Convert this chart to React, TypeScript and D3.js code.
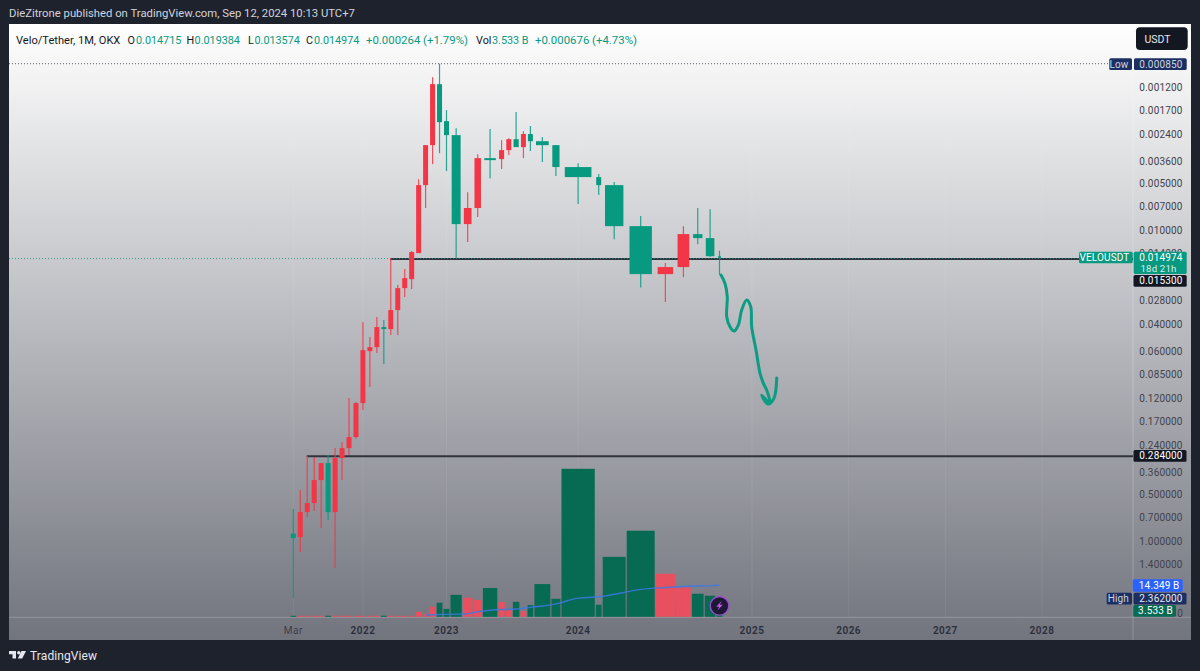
import React from "react";
import * as d3 from "d3";

// Monthly candles, Mar 2021 .. Sep 2024 (the price axis is inverted)
const opens = [0.896,0.944,0.652,0.5705,0.4058,0.3155,0.652,0.2929,0.2526,0.2146,0.1297,0.06004,0.05658,0.04207,0.04334,0.03271,0.02361,0.02067,0.01406,0.005136,0.00284,0.001151,0.00199,0.002449,0.00915,0.00721,0.003444,0.003495,0.003058,0.0026,0.002925,0.00241,0.00268,0.00284,0.00393,0.00456,0.005136,0.00943,0.01919,0.01729,0.01061,0.01126,0.014715];
const highs = [2.33,1.179,0.702,0.6423,0.826,0.7339,1.494,0.4058,0.2802,0.219,0.1439,0.1023,0.06185,0.0728,0.04737,0.04737,0.02698,0.02397,0.01406,0.00721,0.003763,0.003197,0.004174,0.01514,0.011945,0.00825,0.00463,0.00405,0.00329,0.002925,0.003444,0.0031,0.00365,0.00449,0.0068,0.00595,0.01143,0.02344,0.02905,0.02006,0.01231,0.01492,0.019384];
const lows = [0.6235,0.4706,0.2844,0.2886,0.3155,0.2802,0.2526,0.2311,0.1204,0.1278,0.0391,0.0488,0.03628,0.03793,0.01514,0.02258,0.01782,0.01365,0.0047,0.00284,0.001037,0.00085,0.001691,0.002208,0.0057,0.003245,0.00224,0.002637,0.00256,0.00174,0.00231,0.00214,0.00252,0.00284,0.00371,0.00436,0.00491,0.008125,0.0163,0.00943,0.00721,0.00733,0.013574];
const closes = [0.958,0.652,0.5705,0.4058,0.3155,0.652,0.2929,0.2526,0.2146,0.1297,0.05916,0.05658,0.04207,0.04334,0.03271,0.02361,0.02036,0.01385,0.005136,0.00284,0.001151,0.00202,0.002449,0.00915,0.00721,0.003444,0.003547,0.003058,0.0026,0.002925,0.00241,0.00268,0.00284,0.00393,0.00456,0.005136,0.00943,0.01919,0.01729,0.01061,0.01126,0.014715,0.014974];
// Volume in billions
const volumes = [0.4,0.3,0.3,0.3,0.3,0.45,0.3,0.3,0.3,0.3,0.3,0.3,0.3,0.45,0.3,0.3,0.3,0.45,2.3,1.4,4.6,6.4,3.6,10,8.7,7.7,13.1,6.7,3,6.8,2.6,5.3,14.9,8.2,67.4,5.5,27.3,39.2,19.6,13.4,10.5,9.6,3.533];
const volumeMAStart = 19;
const volumeMA = [0.8,0.9,1.05,1.1,1.2,1.4,2.3,3,3.3,3.4,3.55,3.9,4.3,4.9,5.9,8.5,9.1,10.25,12.5,13.35,13.8,14,14.1,14.349];

const priceTicks = [0.0012,0.0017,0.0024,0.0036,0.005,0.007,0.01,0.014,0.028,0.04,0.06,0.085,0.12,0.17,0.24,0.36,0.5,0.7,1,1.4];
const timeTicks: [number,string,boolean][] = [[0,"Mar",false],[10,"2022",true],[22,"2023",true],[34,"2024",true],[46,"2025",true],[58,"2026",true],[70,"2027",true],[82,"2028",true]];
const supportLevels: [number,number][] = [[0.0153,14],[0.284,2]]; // price, month where the line begins

// Hand drawn arrow: month index, price
const sketchMonths = [42.15,42.65,42.93,42.86,43.27,43.77,44.3,44.72,45.34,45.84,45.96,46.5,46.99,47.4,47.82,48.23,47.2,47.99,48.73,49.07];
const sketchPrices = [0.01947,0.02203,0.02685,0.03611,0.04188,0.04465,0.04084,0.03271,0.028206,0.03114,0.04188,0.05916,0.08317,0.09645,0.10699,0.1297,0.1152,0.1316,0.1204,0.08956];

const GREEN = "#089981", RED = "#f23645", VGREEN = "#076b54", VRED = "#e9505f";
const UI = "Roboto, 'Noto Sans', sans-serif";

const y = d3.scaleLog().domain([0.00085, 2.362]).range([63.7, 599]);
const volH = d3.scaleLinear().domain([0, 67.4]).range([0, 148]);
const barW = d3.scaleLinear().domain([0,6.4,8.2,10,13.7,19.6,27.3,39.2,67.4]).range([5.78,5.78,9,11.2,15,19.3,23,28,33.3]);
const widths = volumes.map(v => barW(v));
const cum: number[] = [0];
for (let i = 1; i < widths.length; i++) cum.push(cum[i-1] + (widths[i-1]+widths[i])/2 + 1.25);
const xPast = d3.scaleLinear().domain([0, cum[cum.length-1]]).range([293.3, 719.5]);
const xFuture = d3.scaleLinear().domain([46, 82]).range([752, 1042]);
const xMonth = (m: number) => (m < cum.length && Number.isInteger(m) ? xPast(cum[m]) : xFuture(m));
const baseY = 616.8;

const volLine = d3.line<number>().x((_, i) => xMonth(i + volumeMAStart)).y(v => baseY - volH(v)).curve(d3.curveMonotoneX);
const sketchLine = d3.line<number>().x(m => xFuture(m)).y((_, i) => y(sketchPrices[i])).curve(d3.curveCatmullRom.alpha(0.5));

function Tag({x,y:yy,w,h,fill,text,tx,color="#fff",r=1.5}:{x:number;y:number;w:number;h:number;fill:string;text:string;tx?:number;color?:string;r?:number}) {
  return <g>
    <rect x={x} y={yy} width={w} height={h} rx={r} fill={fill}/>
    <text x={tx ?? x+w-6} y={yy+h/2+3.6} textAnchor="end" fontSize={10} letterSpacing={0.15} fill={color}>{text}</text>
  </g>;
}

export default function App() {
  return (
    <svg width={1200} height={671} viewBox="0 0 1200 671" fontFamily={UI} style={{position:"absolute",left:0,top:0,display:"block"}}>
      <defs>
        <linearGradient id="bg" x1="0" y1="0" x2="0" y2="1">
          <stop offset="0" stopColor="#ffffff"/>
          <stop offset="1" stopColor="#72747e"/>
        </linearGradient>
      </defs>
      <rect width={1200} height={671} fill="#1e222d"/>
      <text x={9} y={16.5} fontSize={11.3} fill="#d1d4dc">DieZitrone published on TradingView.com, Sep 12, 2024 10:13 UTC+7</text>
      <rect x={9} y={24} width={1182} height={616} fill="url(#bg)"/>

      {/* grid */}
      {timeTicks.map(([m]) => <line key={m} x1={xMonth(m)} x2={xMonth(m)} y1={24} y2={617} stroke="#fff" strokeOpacity={0.07}/>)}
      <line x1={1133} x2={1133} y1={24} y2={640} stroke="#fff" strokeOpacity={0.22}/>
      <line x1={9} x2={1191} y1={617.3} y2={617.3} stroke="#fff" strokeOpacity={0.22}/>

      {/* legend */}
      <g fontSize={10.8} fill="#131722">
        <text x={16} y={43.5} fontSize={11.1}>Velo/Tether, 1M, OKX</text>
        <text x={127.5} y={43.5}>O</text><text x={136} y={43.5} fill={GREEN}>0.014715</text>
        <text x={186.6} y={43.5}>H</text><text x={194.6} y={43.5} fill={GREEN}>0.019384</text>
        <text x={248} y={43.5}>L</text><text x={254.5} y={43.5} fill={GREEN}>0.013574</text>
        <text x={306} y={43.5}>C</text><text x={314} y={43.5} fill={GREEN}>0.014974</text>
        <text x={366} y={43.5} fontSize={11.4} fill={GREEN}>+0.000264 (+1.79%)</text>
        <text x={476} y={43.5}>Vol</text><text x={492} y={43.5} fill={GREEN}>3.533 B</text>
        <text x={535} y={43.5} fontSize={11.4} fill={GREEN}>+0.000676 (+4.73%)</text>
      </g>

      {/* volume */}
      {volumes.map((v,i) => {
        const h = Math.max(volH(v), 1), w = widths[i], cx = xMonth(i);
        return <rect key={i} x={cx-w/2} y={baseY-h} width={w} height={h} fill={closes[i]>=opens[i]?VGREEN:VRED}/>;
      })}
      <path d={volLine(volumeMA)!} fill="none" stroke="#3b78e7" strokeOpacity={0.85} strokeWidth={1.4}/>

      {/* low & last price lines */}
      <line x1={9} x2={1108} y1={y(0.00085)} y2={y(0.00085)} stroke="#5a5e68" strokeWidth={1} strokeDasharray="1 2"/>

      {/* support levels */}
      {supportLevels.map(([p,m]) => <line key={p} x1={xMonth(m)-0.5} x2={1133} y1={y(p)+0.3} y2={y(p)+0.3} stroke="#2f333d" strokeWidth={2}/>)}
      <line x1={9} x2={1079} y1={y(0.014974)+1.2} y2={y(0.014974)+1.2} stroke={GREEN} strokeWidth={1} strokeOpacity={0.8} strokeDasharray="1 2"/>

      {/* candles */}
      {opens.map((o,i) => {
        const c = closes[i], col = c>=o?GREEN:RED, cx = xMonth(i);
        const w = i===opens.length-1 ? 3 : Math.max(widths[i]*0.8, 5);
        const t = y(Math.min(o,c)), b = y(Math.max(o,c));
        return <g key={i}>
          <line x1={cx} x2={cx} y1={y(lows[i])} y2={y(highs[i])} stroke={col} strokeWidth={1.2} strokeOpacity={0.85}/>
          <rect x={cx-w/2} y={t} width={w} height={Math.max(b-t,1.6)} fill={col}/>
        </g>;
      })}

      {/* hand drawn arrow */}
      <path d={sketchLine(sketchMonths)!} fill="none" stroke="#0b9c83" strokeWidth={3} strokeLinecap="round" strokeLinejoin="round"/>

      {/* lightning icon */}
      <g transform={`translate(${xMonth(42)},605.8)`}>
        <circle r={9.3} fill="#1c1836" stroke="#9a4fc9" strokeWidth={1.4}/>
        <path d="M2.2,-5 L-3.2,0.9 L-0.3,0.9 L-2.2,5 L3.2,-1 L0.3,-1 Z" fill="#c25be0"/>
      </g>

      {/* price axis */}
      <g fontSize={10} letterSpacing={0.15} fill="#3f424c">
        {priceTicks.map(p => <text key={p} x={1182.5} y={y(p)+3.9} textAnchor="end">{p.toFixed(6)}</text>)}
      </g>
      <text x={1180} y={617} fontSize={10} textAnchor="middle" fill="#3f424c">0</text>

      {/* time axis */}
      <g fontSize={10} letterSpacing={0.5} fill="#2a2e39" textAnchor="middle">
        {timeTicks.map(([m,l,bold]) => <text key={m} x={xMonth(m)} y={633.5} fontWeight={bold?600:400} fillOpacity={bold?1:0.8}>{l}</text>)}
      </g>

      {/* tags */}
      <rect x={1136} y={27.3} width={51.7} height={22.7} rx={4} fill="#131722"/>
      <text x={1144.5} y={43} fontSize={10.5} fill="#e6e8ee">USDT</text>
      <Tag x={1109.3} y={58.3} w={22.7} h={11.7} fill="#1c2f63" text="Low" color="#d1d4dc" tx={1128.5}/>
      <Tag x={1134} y={58.3} w={52.7} h={11.7} fill="#1c2f63" text="0.000850" color="#d1d4dc" tx={1182.5}/>
      <Tag x={1079} y={251.7} w={53.7} h={11.6} fill={GREEN} text="VELOUSDT" tx={1129.5}/>
      <rect x={1133.7} y={251.7} width={53} height={22.3} rx={1.5} fill={GREEN}/>
      <text x={1182.5} y={261} fontSize={10} letterSpacing={0.15} textAnchor="end" fill="#fff">0.014974</text>
      <text x={1176.5} y={271.5} fontSize={9.6} letterSpacing={0.2} textAnchor="end" fill="#d7f0ea">18d 21h</text>
      <Tag x={1133.5} y={275} w={53.2} h={11.7} fill="#131722" text="0.015300" tx={1182.5}/>
      <Tag x={1133.5} y={450} w={53} h={11.7} fill="#131722" text="0.284000" tx={1182.5}/>
      <Tag x={1132.7} y={579.3} w={50} h={12.4} fill="#2962ff" text="14.349 B" tx={1179.5}/>
      <Tag x={1106.7} y={592.7} w={25.3} h={11.7} fill="#1c2f63" text="High" color="#d1d4dc" tx={1129}/>
      <Tag x={1133.5} y={592.7} w={53} h={11.7} fill="#1c2f63" text="2.362000" color="#e6e8ee" tx={1182.5}/>
      <Tag x={1133.3} y={605} w={42.7} h={11.7} fill="#076b54" text="3.533 B" tx={1173}/>

      {/* footer */}
      <g transform="translate(9,651)" fill="#e6e8ee">
        <path d="M0,0 H7 V7.5 H3.5 V3.2 H0 Z"/>
        <circle cx={9.8} cy={1.7} r={1.7}/>
        <path d="M12.5,0 H17 L13.2,7.5 H8.8 Z"/>
      </g>
      <text x={30} y={660} fontSize={12} letterSpacing={0.1} fill="#e6e8ee">TradingView</text>
    </svg>
  );
}
